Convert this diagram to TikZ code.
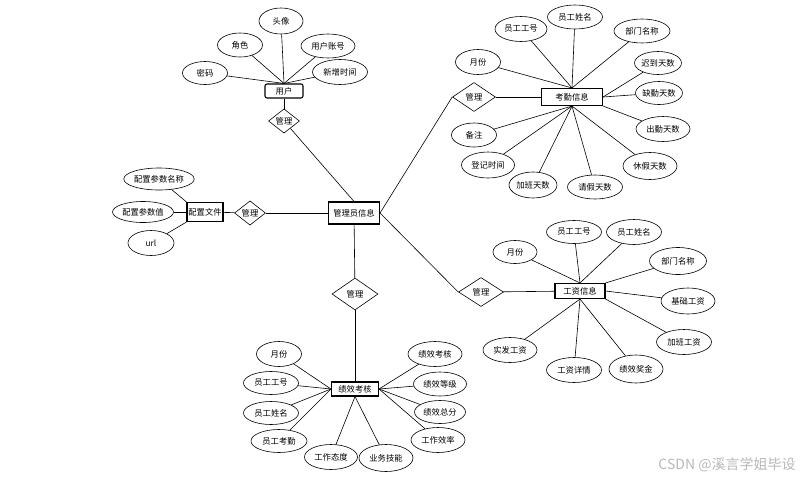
\documentclass[tikz,border=0pt]{standalone}
\usepackage{fontspec}
\newfontfamily\cjk{Noto Sans CJK SC}
\usetikzlibrary{shapes.geometric}
\tikzset{
  lbl/.style={font=\cjk\fontsize{8.3}{9}\selectfont},
  attr/.style={ellipse,draw,line width=0.6pt,inner sep=0pt,lbl},
  ent/.style={rectangle,draw,line width=1.1pt,inner sep=0pt,lbl},
  rel/.style={diamond,draw,line width=0.6pt,inner sep=0pt,lbl},
  con/.style={line width=0.6pt}
}
\newcommand\myattr[5]{\node[attr,minimum width=#4pt,minimum height=#5pt] (#1) at (#2) {#3};}
\begin{document}
\begin{tikzpicture}[x=1pt,y=-1pt]
\useasboundingbox (0,0) rectangle (812,480);
% center
\node[ent,minimum width=51pt,minimum height=22pt] (mgr) at (354,213) {管理员信息};
% user
\node[ent,rounded corners=2pt,minimum width=38pt,minimum height=14pt] (user) at (284,91) {用户};
\node[rel,minimum width=31pt,minimum height=22pt] (r1) at (284,121) {管理};
\myattr{u1}{205,73}{密码}{45}{23}
\myattr{u2}{240,45}{角色}{45}{24}
\myattr{u3}{281,21}{头像}{44}{26}
\myattr{u4}{328,46}{用户账号}{54}{24}
\myattr{u5}{340,72}{新增时间}{55}{25}
\foreach \a in {u1,u2,u3,u4,u5} \draw[con] (\a) -- (user.north);
\draw[con] (user) -- (r1);
\draw[con] (r1) -- (mgr.north);
% config
\node[ent,minimum width=36pt,minimum height=19pt] (cfg) at (205,212) {配置文件};
\node[rel,minimum width=31pt,minimum height=20pt] (r2) at (250,213) {管理};
\myattr{c1}{159,179}{配置参数名称}{68}{22}
\myattr{c2}{143,212}{配置参数值}{61}{21}
\myattr{c3}{151,243}{url}{46}{25}
\draw[con] (c1) -- (cfg.north west);
\draw[con] (c2) -- (cfg.west);
\draw[con] (c3) -- (cfg.south west);
\draw[con] (cfg) -- (r2);
\draw[con] (r2) -- (mgr);
% attendance
\node[rel,minimum width=43pt,minimum height=29pt] (r3) at (474,97) {管理};
\node[ent,minimum width=61pt,minimum height=17pt] (att) at (572,97) {考勤信息};
\myattr{a1}{521,29}{员工工号}{52}{25}
\myattr{a2}{575,17}{员工姓名}{55}{24}
\myattr{a3}{642,31}{部门名称}{56}{24}
\myattr{a4}{658,63}{迟到天数}{46}{23}
\myattr{a5}{659,93}{缺勤天数}{46}{23}
\myattr{a6}{478,62}{月份}{45}{25}
\myattr{a7}{663,129}{出勤天数}{54}{25}
\myattr{a8}{474,135}{备注}{45}{24}
\myattr{a9}{488,165}{登记时间}{53}{26}
\myattr{a10}{533,185}{加班天数}{48}{26}
\myattr{a11}{595,187}{请假天数}{55}{24}
\myattr{a12}{650,166}{休假天数}{54}{27}
\foreach \a in {a1,a2,a3,a6} \draw[con] (\a) -- (att.north);
\foreach \a in {a4,a5} \draw[con] (\a) -- (att.east);
\draw[con] (a7) -- (att.south east);
\foreach \a in {a8,a9,a10,a11,a12} \draw[con] (\a) -- (att.south);
\draw[con] (mgr.east) -- (r3.west);
\draw[con] (r3) -- (att);
% salary
\node[rel,minimum width=45pt,minimum height=29pt] (r4) at (481,292) {管理};
\node[ent,minimum width=50pt,minimum height=15pt] (sal) at (580,291) {工资信息};
\myattr{s1}{515,252}{月份}{44}{23}
\myattr{s2}{574,232}{员工工号}{55}{23}
\myattr{s3}{634,232}{员工姓名}{55}{25}
\myattr{s4}{678,261}{部门名称}{57}{27}
\myattr{s5}{688,301}{基础工资}{54}{26}
\myattr{s6}{684,342}{加班工资}{55}{25}
\myattr{s7}{636,369}{绩效奖金}{54}{28}
\myattr{s8}{574,370}{工资详情}{55}{25}
\myattr{s9}{510,350}{实发工资}{54}{25}
\foreach \a in {s1,s2,s3} \draw[con] (\a) -- (sal.north);
\draw[con] (s4) -- (sal.north east);
\draw[con] (s5) -- (sal.east);
\draw[con] (s6) -- (sal.south east);
\foreach \a in {s7,s8,s9} \draw[con] (\a) -- (sal.south);
\draw[con] (mgr.east) -- (r4.west);
\draw[con] (r4) -- (sal);
% performance
\node[rel,minimum width=46pt,minimum height=32pt] (r5) at (355,294) {管理};
\node[ent,minimum width=47pt,minimum height=14pt] (perf) at (355,389) {绩效考核};
\myattr{p1}{279,354}{月份}{45}{25}
\myattr{p2}{271,383}{员工工号}{55}{23}
\myattr{p3}{271,413}{员工姓名}{55}{23}
\myattr{p4}{279,441}{员工考勤}{56}{23}
\myattr{p5}{331,457}{工作态度}{53}{25}
\myattr{p6}{386,458}{业务技能}{54}{27}
\myattr{p7}{438,440}{工作效率}{54}{25}
\myattr{p8}{440,412}{绩效总分}{51}{23}
\myattr{p9}{440,384}{绩效等级}{53}{24}
\myattr{p10}{435,354}{绩效考核}{54}{25}
\foreach \a in {p1,p2,p3,p4} \draw[con] (\a) -- (perf.west);
\foreach \a in {p5,p6} \draw[con] (\a) -- (perf.south);
\foreach \a in {p7,p8,p9,p10} \draw[con] (\a) -- (perf.east);
\draw[con] (mgr) -- (r5);
\draw[con] (r5) -- (perf);
% watermark
\node[font=\cjk\fontsize{14}{15}\selectfont,text=black!28,inner sep=0pt] (wm) at (727,465) {CSDN @溪言学姐毕设};
\end{tikzpicture}
\end{document}
